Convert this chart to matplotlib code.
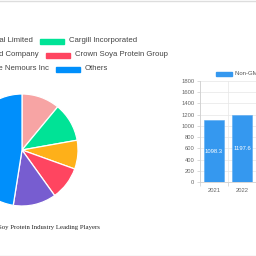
import matplotlib
matplotlib.use("Agg")
import matplotlib.pyplot as plt
from matplotlib.patches import Rectangle
from matplotlib.lines import Line2D

# pie data (share of market, %)
players = ["Wilmar International Limited", "Cargill Incorporated",
           "Archer Daniels Midland Company", "Crown Soya Protein Group",
           "DuPont de Nemours Inc", "Others"]
shares = [11.0, 11.2, 8.3, 9.6, 12.4, 47.5]
pie_colors = ["#f7a4a4", "#00e396", "#feb019", "#ff4560", "#775dd0", "#008ffb"]

# bar data
years = ["2021", "2022"]
values = [1098.3, 1197.6]
bar_name = "Non-GMO Soy Protein"
bar_color = "#3598ef"

W = 256.0
def fx(x):
    return x / W
def fy(y):
    return 1 - y / W

plt.rcParams['font.family'] = ['Liberation Sans', 'DejaVu Sans']
fig = plt.figure(figsize=(2.56, 2.56), dpi=100)
fig.patch.set_facecolor("white")

# frame lines from the page
fig.add_artist(Line2D([0, 1], [fy(0.5), fy(0.5)], color="#dddddd", lw=1.0))
fig.add_artist(Line2D([0, 1], [fy(255.5), fy(255.5)], color="#dddddd", lw=1.0))

# ---- pie ----
cx, cy, r = 22, 150, 70
pax = fig.add_axes([fx(cx - r), fy(cy + r), 2 * r / W, 2 * r / W])
pax.pie(shares, colors=pie_colors, startangle=90, counterclock=False,
        wedgeprops=dict(edgecolor="white", linewidth=0.9))
pax.set_aspect("equal")

fig.text(fx(100), fy(227), "Soy Protein Industry Leading Players",
         ha="right", va="center", fontsize=4.85, family="Liberation Serif",
         color="#222222")

# legend rows: (left item text end x, right item patch x) per row
rows = [(33, 40), (39, 46), (49, 56)]
rows_y = [41, 55, 69]
lg_size = 5.6
fig.canvas.draw()
renderer = fig.canvas.get_renderer()
for i, (xe, px) in enumerate(rows):
    y = rows_y[i]
    # left item
    t = fig.text(fx(xe), fy(y), players[2 * i], ha="right", va="center",
                 fontsize=lg_size, color="#444444")
    tw = t.get_window_extent(renderer).width
    lp = xe - tw - 5 - 24
    fig.add_artist(Rectangle((fx(lp), fy(y + 2.5)), 24 / W, 5 / W,
                             color=pie_colors[2 * i], transform=fig.transFigure))
    # right item
    fig.add_artist(Rectangle((fx(px), fy(y + 2.5)), 24 / W, 5 / W,
                             color=pie_colors[2 * i + 1], transform=fig.transFigure))
    fig.text(fx(px + 29), fy(y), players[2 * i + 1], ha="left", va="center",
             fontsize=lg_size, color="#444444")

# ---- bars ----
top, bot = 80.7, 182.3
bax = fig.add_axes([fx(200), fy(bot), (W - 200) / W, (bot - top) / W])
xs = list(range(len(years)))
bars = bax.bar(xs, values, width=0.72, color=bar_color, zorder=3,
               edgecolor="#5aaaf2", linewidth=0.4)
bax.set_xlim(-0.5, 1.25)
bax.set_ylim(0, 1800)
bax.set_yticks(range(0, 1801, 200))
bax.set_xticks(xs)
bax.set_xticklabels(years)
bax.set_xticks([-0.5, 0.5, 1.5], minor=True)
bax.tick_params(axis="x", which="major", length=0, labelsize=4.2,
                colors="#666666", pad=4)
bax.tick_params(axis="x", which="minor", length=3, width=0.5, color="#cccccc")
bax.tick_params(axis="y", length=2, width=0.5, color="#cccccc",
                labelsize=4.2, labelcolor="#666666", pad=2)
bax.grid(axis="y", color="#e6e6e6", lw=0.5, zorder=0)
bax.grid(axis="x", which="minor", color="#e6e6e6", lw=0.5, zorder=0)
for s in ["top", "right"]:
    bax.spines[s].set_visible(False)
for s in ["left", "bottom"]:
    bax.spines[s].set_color("#d0d0d0")
    bax.spines[s].set_linewidth(0.6)
for b, v in zip(bars, values):
    bax.text(b.get_x() + b.get_width() / 2, v / 2, str(v), ha="center",
             va="center", fontsize=4.2, color="white", zorder=4)

# bar legend
fig.add_artist(Rectangle((fx(216), fy(76)), 16 / W, 4 / W, color=bar_color,
                         transform=fig.transFigure))
fig.text(fx(235), fy(74), bar_name, ha="left", va="center", fontsize=4.3,
         color="#555555")

fig.savefig("out.png", dpi=100)
